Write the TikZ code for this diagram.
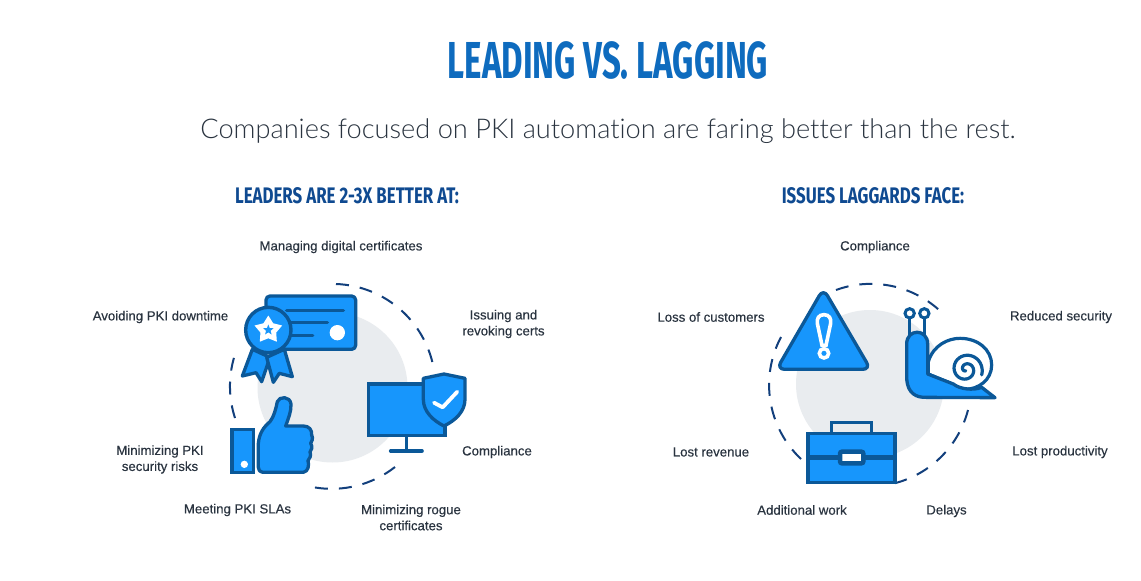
\documentclass[tikz,border=0pt]{standalone}
\usepackage{fontspec}
\usetikzlibrary{shapes.geometric}
\setmainfont{Open Sans}
\newfontfamily\dinf[FakeStretch=0.635]{Fira Sans}
\newfontfamily\dinh[FakeStretch=0.75]{Fira Sans}
\newfontfamily\lightf[Ligatures=NoCommon]{Lato Light}
\newfontfamily\labf[FakeBold=0.35]{Liberation Sans}
\definecolor{iconfill}{HTML}{1796FC}
\definecolor{iconline}{HTML}{0B5898}
\definecolor{dashc}{HTML}{123F7C}
\definecolor{greyc}{HTML}{E9ECEF}
\definecolor{titlec}{HTML}{0E6BBE}
\definecolor{headc}{HTML}{0F4A91}
\definecolor{textc}{HTML}{2A3440}
\tikzset{
  titletxt/.style={text=titlec,font=\dinf\bfseries\fontsize{52}{52}\selectfont,inner sep=0},
  subtxt/.style={text=textc,font=\lightf\fontsize{27.2}{32}\selectfont,inner sep=0},
  headtxt/.style={text=headc,font=\dinh\bfseries\fontsize{22.5}{24}\selectfont,inner sep=0},
  labtxt/.style={text=textc,font=\labf\fontsize{13.2}{16}\selectfont,align=center,inner sep=0},
  dasharc/.style={draw=dashc,line width=2pt,dash pattern=on 13pt off 11pt},
  ico/.style={draw=iconline,fill=iconfill,line width=3.3pt,line join=round},
  icol/.style={draw=iconline,line width=3.6pt,line cap=round},
  zoomL/.style={shift={(220,270)},x=0.33333pt,y=-0.33333pt},
  zoomR/.style={shift={(760,270)},x=0.33333pt,y=-0.33333pt},
}
\begin{document}
\begin{tikzpicture}[x=1pt,y=-1pt]
\useasboundingbox (0,0) rectangle (1141,581);
\fill[white] (0,0) rectangle (1141,581);

\node[titletxt] (title) at (608,60) {LEADING VS. LAGGING};
\node[subtxt] (sub) at (608,131) {Companies focused on PKI automation are faring better than the rest.};
\node[headtxt] (hl) at (347,196) {LEADERS ARE 2-3X BETTER AT:};
\node[headtxt] (hr) at (873,196) {ISSUES LAGGARDS FACE:};

\node[labtxt] (l1) at (341,247) {Managing digital certificates};
\node[labtxt] (l2) at (503.5,324) {Issuing and\\revoking certs};
\node[labtxt] (l3) at (497,452) {Compliance};
\node[labtxt] (l4) at (411,517.5) {Minimizing rogue\\certificates};
\node[labtxt] (l5) at (237.5,510) {Meeting PKI SLAs};
\node[labtxt] (l6) at (160,459.5) {Minimizing PKI\\security risks};
\node[labtxt] (l7) at (160.5,317) {Avoiding PKI downtime};

\node[labtxt] (r1) at (875,247) {Compliance};
\node[labtxt] (r2) at (1061,317) {Reduced security};
\node[labtxt] (r3) at (1060,452) {Lost productivity};
\node[labtxt] (r4) at (946.5,511) {Delays};
\node[labtxt] (r5) at (802,510) {Additional work};
\node[labtxt] (r6) at (711,452) {Lost revenue};
\node[labtxt] (r7) at (711,317) {Loss of customers};

% left decor
\fill[greyc] (332.5,387.5) circle[radius=75];
\draw[dasharc] (336,284) arc[start angle=-88,end angle=-13.5,radius=103];
\draw[dasharc] (395,467) arc[start angle=52,end angle=99.5,radius=103];
\draw[dasharc] (235,418) arc[start angle=162,end angle=196.5,radius=103];

% right decor
\fill[greyc] (870,384) circle[radius=74];
\draw[dasharc] (836,290) arc[start angle=-110,end angle=-48.5,radius=102];
\draw[dasharc] (968,410) arc[start angle=14.5,end angle=75.5,radius=102];
\draw[dasharc] (801,459) arc[start angle=133.4,end angle=208,radius=102];

% left icons
\begin{scope}[zoomL]
  % certificate
  \draw[ico,rounded corners=4pt] (138,78) rectangle (407,238);
  \draw[icol] (200,122) -- (370,122);
  \draw[icol] (205,158) -- (322,158);
  \draw[icol] (205,196) -- (278,196);
  \fill[white] (352,188) circle[radius=23];
  % ribbons
  \draw[ico] (97,238) -- (67,318) -- (108,308) -- (125,335) -- (150,262) -- cycle;
  \draw[ico] (193,238) -- (217,320) -- (178,310) -- (160,337) -- (140,262) -- cycle;
  % medal
  \draw[ico,line width=3.4pt] (145,180) circle[radius=68];
  \node[star,star points=5,star point ratio=1.75,fill=white,minimum size=29pt,inner sep=0] (s1) at (145,180) {};
  \node[star,star points=5,star point ratio=2.3,fill=iconfill,minimum size=11pt,inner sep=0] (s2) at (145,180) {};
  % monitor
  \draw[icol] (560,497) -- (560,543);
  \draw[icol] (512,543) -- (606,543);
  \draw[ico,line cap=butt,line join=miter] (445,342) rectangle (675,497);
  % shield
  \draw[ico] (672,312) -- (735,325) -- (735,388) .. controls (735,425) and (705,452) .. (672,468)
     .. controls (640,452) and (610,425) .. (610,388) -- (610,325) -- cycle;
  \draw[white,line width=3.8pt,line cap=round,line join=round] (642,398) -- (668,412) -- (712,365);
  % thumb
  \draw[ico] (115,520) .. controls (118,490) and (130,472) .. (150,455)
     .. controls (162,440) and (168,415) .. (172,395)
     .. controls (178,378) and (210,378) .. (213,402)
     .. controls (214,425) and (205,445) .. (197,468)
     -- (250,468) .. controls (268,468) and (276,480) .. (275,495)
     .. controls (280,505) and (276,515) .. (272,520)
     .. controls (278,530) and (276,540) .. (270,546)
     .. controls (274,556) and (270,566) .. (264,572)
     .. controls (268,585) and (265,605) .. (250,607)
     -- (128,607) .. controls (120,607) and (115,600) .. (115,592) -- cycle;
  % phone-like block
  \draw[ico,line join=miter] (36,478) rectangle (100,608);
  \fill[white] (73,583) circle[radius=11];
\end{scope}

% right icons
\begin{scope}[zoomR]
  % warning triangle
  \draw[ico,rounded corners=8pt] (190,56) -- (332,298) -- (50,298) -- cycle;
  \draw[fill=iconfill,draw=white,line width=3.6pt] (192,134) .. controls (176,134) and (170,146) .. (172,160)
     -- (186,226) -- (198,226) -- (212,160) .. controls (214,146) and (208,134) .. (192,134) -- cycle;
  \draw[fill=iconfill,draw=white,line width=3.6pt] (192,250) circle[radius=14];
  % snail
  \draw[icol] (449,130) -- (449,195);
  \draw[icol] (493,130) -- (493,195);
  \draw[draw=iconline,fill=white,line width=3pt] (449,130) circle[radius=14];
  \draw[draw=iconline,fill=white,line width=3pt] (493,130) circle[radius=14];
  \draw[draw=iconline,fill=white,line width=3.2pt] (505,275) .. controls (520,225) and (565,205) .. (600,205)
     .. controls (655,205) and (695,240) .. (695,285)
     .. controls (695,330) and (655,358) .. (615,358)
     .. controls (595,358) and (582,350) .. (572,340)
     -- (505,312) -- cycle;
  \draw[ico] (440,222) .. controls (440,175) and (503,175) .. (503,222)
     -- (503,312) -- (580,342) .. controls (600,358) and (640,362) .. (665,352) -- (705,383) -- (490,382)
     .. controls (455,380) and (440,355) .. (440,320) -- cycle;
  \draw[draw=iconline,line width=3.2pt,line cap=round]
     plot[domain=0:1,samples=60,smooth] ({618+(4+46*\x)*cos(100+640*\x)},{298+(4+46*\x)*sin(100+640*\x)});
  % briefcase
  \draw[draw=iconline,line width=3.2pt] (215,488) -- (215,458) -- (335,458) -- (335,488);
  \draw[ico,line join=miter] (144,490) rectangle (405,638);
  \draw[draw=iconline,line width=5.5pt] (144,562) -- (405,562);
  \draw[draw=iconline,fill=white,line width=4.5pt,rounded corners=2pt] (240,545) rectangle (310,580);
\end{scope}
\end{tikzpicture}
\end{document}
